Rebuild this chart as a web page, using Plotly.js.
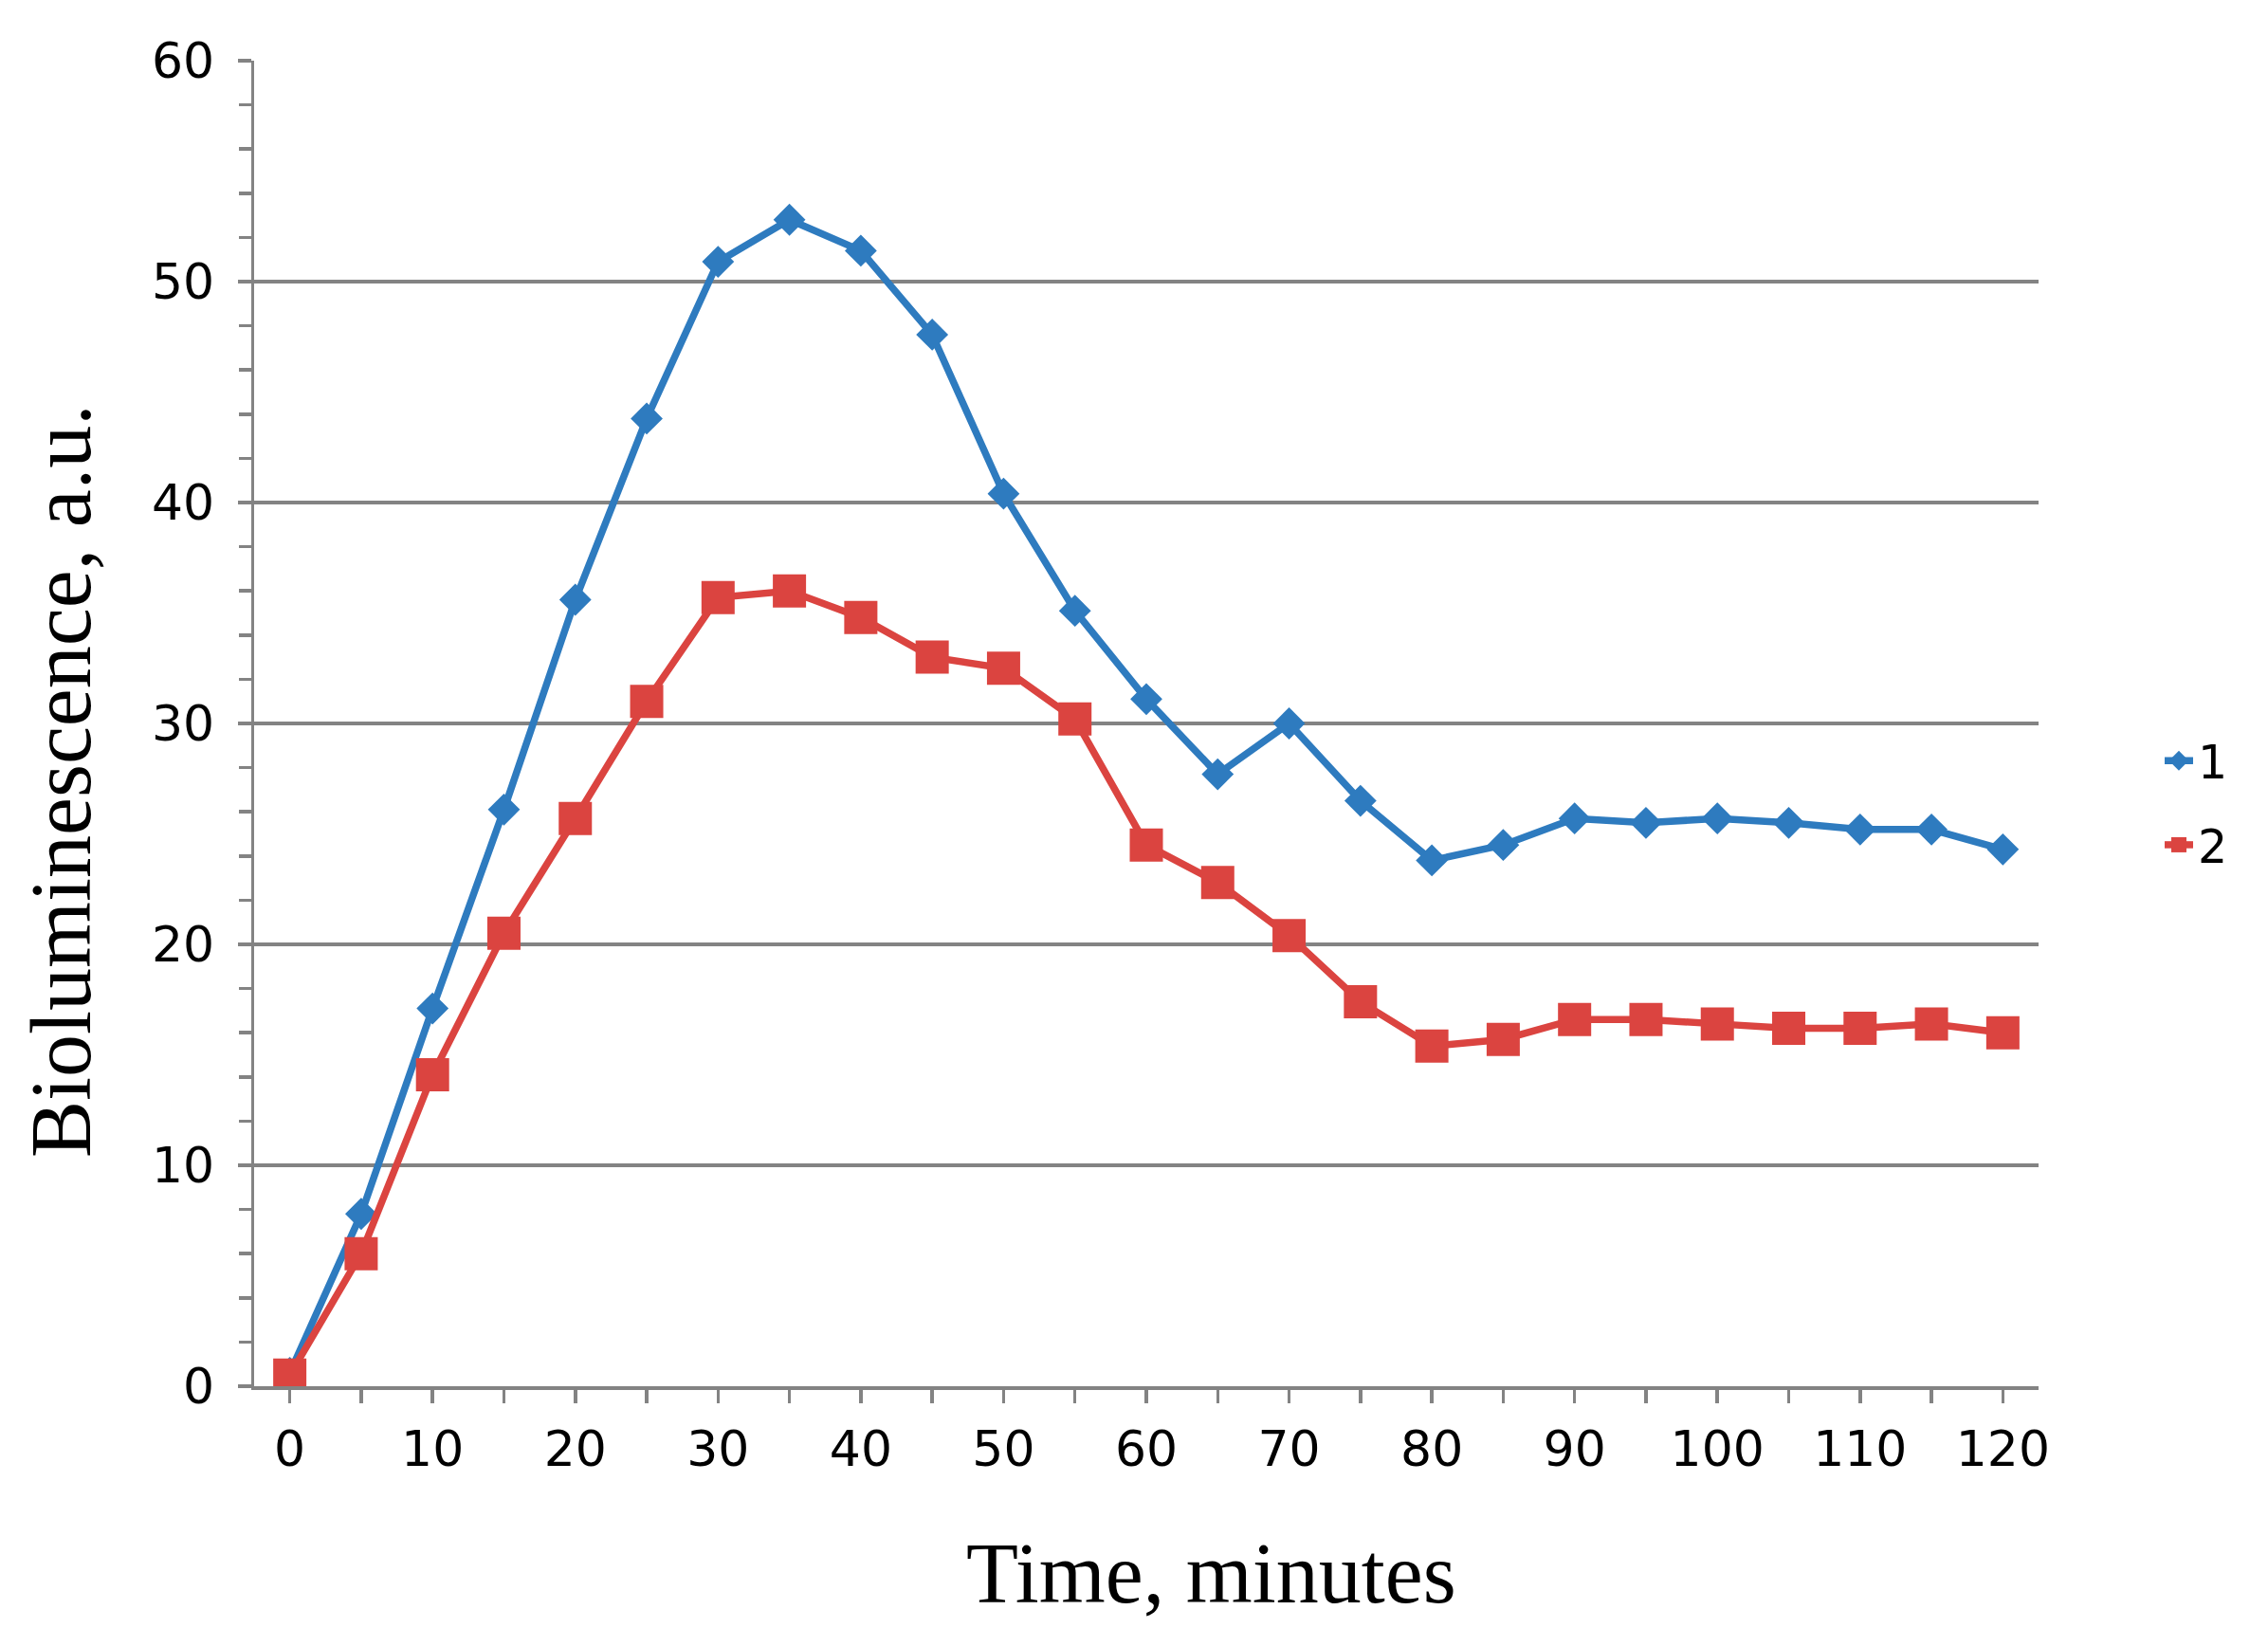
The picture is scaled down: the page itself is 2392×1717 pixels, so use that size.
<!DOCTYPE html>
<html>
<head>
<meta charset="utf-8">
<script src="https://cdn.plot.ly/plotly-3.0.1.min.js"></script>
<style>
  html, body { margin: 0; padding: 0; background: #ffffff; }
  #chart { width: 2392px; height: 1717px; }
</style>
</head>
<body>
<div id="chart"></div>
<script>
// Time points (minutes)
const timeMinutes = [0, 5, 10, 15, 20, 25, 30, 35, 40, 45, 50, 55, 60,
                     65, 70, 75, 80, 85, 90, 95, 100, 105, 110, 115, 120];

// Series 1 (blue, diamonds)
const series1 = [0.6, 7.8, 17.1, 26.1, 35.6, 43.8, 50.9, 52.8, 51.4, 47.6, 40.4, 35.1, 31.1,
                 27.7, 30.0, 26.5, 23.8, 24.5, 25.7, 25.5, 25.7, 25.5, 25.2, 25.2, 24.3];

// Series 2 (red, squares)
const series2 = [0.5, 6.0, 14.1, 20.5, 25.7, 31.0, 35.7, 36.0, 34.8, 33.0, 32.5, 30.2, 24.5,
                 22.8, 20.4, 17.4, 15.4, 15.7, 16.6, 16.6, 16.4, 16.2, 16.2, 16.4, 16.0];

const seriesNames = ['1', '2'];
const xTickVals = [0, 10, 20, 30, 40, 50, 60, 70, 80, 90, 100, 110, 120];
const yTickVals = [0, 10, 20, 30, 40, 50, 60];
const xTitle = 'Time, minutes';
const yTitle = 'Bioluminescence, a.u.';

const blue = '#2e7bbf';
const red = '#db4440';
const gray = '#838383';

const traces = [
  {
    x: timeMinutes, y: series1, name: seriesNames[0], type: 'scatter', mode: 'lines+markers',
    line: { color: blue, width: 7.5 },
    marker: { symbol: 'diamond', size: 26, color: blue, line: { width: 0 } },
    legendgroup: 'g1'
  },
  {
    x: timeMinutes, y: series2, name: seriesNames[1], type: 'scatter', mode: 'lines+markers',
    line: { color: red, width: 7.5 },
    marker: { symbol: 'square', size: 35, color: red, line: { width: 0 } },
    legendgroup: 'g2'
  }
];

const layout = {
  width: 2392, height: 1717,
  margin: { l: 268, r: 242, t: 64, b: 255, pad: 0 },
  paper_bgcolor: '#ffffff', plot_bgcolor: '#ffffff',
  showlegend: true,
  legend: {
    x: 1.068, xanchor: 'left', y: 0.44, yanchor: 'middle',
    font: { family: 'DejaVu Sans', size: 49, color: '#000000' },
    traceorder: 'grouped', tracegroupgap: 22,
    bgcolor: 'rgba(0,0,0,0)', borderwidth: 0
  },
  xaxis: {
    range: [-2.5, 122.5], tickmode: 'array', tickvals: xTickVals,
    ticks: 'outside', ticklen: 14, tickwidth: 3.5, tickcolor: gray,
    minor: { dtick: 5, tick0: 0, ticks: 'outside', ticklen: 14, tickwidth: 3.5, tickcolor: gray, showgrid: false },
    showline: true, linecolor: gray, linewidth: 3.5,
    showgrid: false, zeroline: false,
    tickfont: { family: 'DejaVu Sans', size: 52, color: '#000000' },
    ticklabelstandoff: 4
  },
  yaxis: {
    range: [0, 60], tickmode: 'array', tickvals: yTickVals,
    ticks: 'outside', ticklen: 14, tickwidth: 3.5, tickcolor: gray,
    minor: { dtick: 2, tick0: 0, ticks: 'outside', ticklen: 13, tickwidth: 3.5, tickcolor: gray, showgrid: false },
    showline: true, linecolor: gray, linewidth: 3.5,
    showgrid: true, gridcolor: gray, gridwidth: 3.5, zeroline: false,
    tickfont: { family: 'DejaVu Sans', size: 52, color: '#000000' },
    ticklabelstandoff: 14
  },
  annotations: [
    {
      text: xTitle, xref: 'paper', yref: 'paper', x: 0.5365, y: -0.1416,
      xanchor: 'center', yanchor: 'middle', showarrow: false,
      font: { family: 'Liberation Serif', size: 90, color: '#000000' }
    },
    {
      text: yTitle, xref: 'paper', yref: 'paper', x: -0.1084, y: 0.457,
      xanchor: 'center', yanchor: 'middle', showarrow: false, textangle: -90,
      font: { family: 'Liberation Serif', size: 90, color: '#000000' }
    }
  ]
};

Plotly.newPlot('chart', traces, layout, { displayModeBar: false, staticPlot: true });
</script>
</body>
</html>
